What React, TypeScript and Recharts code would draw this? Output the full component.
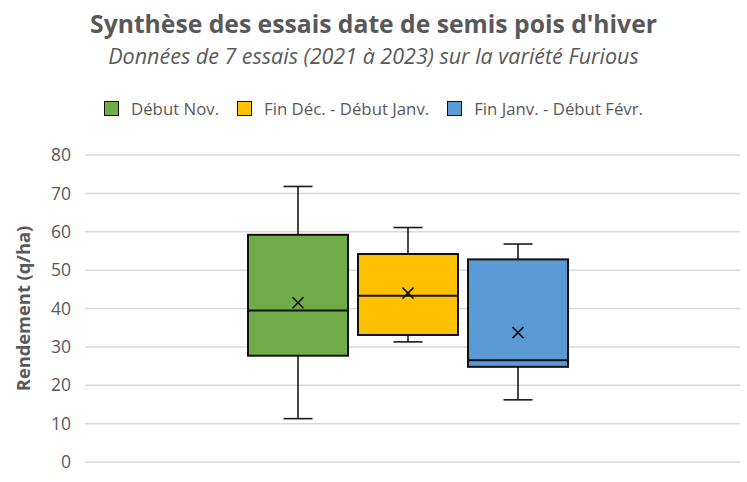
import React from 'react';
import { ComposedChart, Bar, XAxis, YAxis, CartesianGrid } from 'recharts';

const categories = ['Furious'];
const seriesNames = ['Début Nov.', 'Fin Déc. - Début Janv.', 'Fin Janv. - Début Févr.'];
const seriesColors = ['#70AD47', '#FFC000', '#5B9BD5'];
const minValues = [11.3, 31.3, 16.2];
const q1Values = [27.7, 33.1, 24.8];
const medianValues = [39.5, 43.3, 26.5];
const meanValues = [41.5, 44.0, 33.7];
const q3Values = [59.2, 54.2, 52.8];
const maxValues = [71.8, 61.1, 56.8];
const yTicks = [0, 10, 20, 30, 40, 50, 60, 70, 80];

const FONT = '"Open Sans", Lato, sans-serif';
const TEXT = '#595959';

const data = categories.map((c) => {
  const row: any = { category: c };
  seriesNames.forEach((_, i) => {
    row[`box${i}`] = [q1Values[i], q3Values[i]];
  });
  return row;
});

const makeShape = (i: number) => (props: any) => {
  const { x, y, width, height } = props;
  const top = Math.min(y, y + height);
  const bottom = Math.max(y, y + height);
  const ppu = (bottom - top) / (q3Values[i] - q1Values[i]);
  const toY = (v: number) => bottom - (v - q1Values[i]) * ppu;
  const cx = x + width / 2;
  const cap = 14.5;
  const yMax = toY(maxValues[i]);
  const yMin = toY(minValues[i]);
  const yMed = toY(medianValues[i]);
  const yMean = toY(meanValues[i]);
  const m = 5.5;
  return (
    <g>
      <line x1={cx} x2={cx} y1={yMax} y2={top} stroke="#1a1a1a" strokeWidth={1.6} />
      <line x1={cx - cap} x2={cx + cap} y1={yMax} y2={yMax} stroke="#1a1a1a" strokeWidth={1.6} />
      <line x1={cx} x2={cx} y1={bottom} y2={yMin} stroke="#1a1a1a" strokeWidth={1.6} />
      <line x1={cx - cap} x2={cx + cap} y1={yMin} y2={yMin} stroke="#1a1a1a" strokeWidth={1.6} />
      <rect x={x} y={top} width={width} height={bottom - top} fill={seriesColors[i]} stroke="#111" strokeWidth={2} />
      <line x1={x} x2={x + width} y1={yMed} y2={yMed} stroke="#111" strokeWidth={2} />
      <line x1={cx - m} x2={cx + m} y1={yMean - m} y2={yMean + m} stroke="#111" strokeWidth={1.6} />
      <line x1={cx - m} x2={cx + m} y1={yMean + m} y2={yMean - m} stroke="#111" strokeWidth={1.6} />
    </g>
  );
};

export default function App() {
  return (
    <div style={{ position: 'absolute', left: 0, top: 0, width: 747, height: 482, background: '#fff', fontFamily: FONT }}>
      <div style={{ position: 'absolute', left: 0, width: 747, top: 7, textAlign: 'center', fontSize: 24.7, fontWeight: 700, color: TEXT, whiteSpace: 'nowrap' }}>
        Synthèse des essais date de semis pois d'hiver
      </div>
      <div style={{ position: 'absolute', left: 0, width: 747, top: 41, textAlign: 'center', fontSize: 21.5, fontStyle: 'italic', color: TEXT, whiteSpace: 'nowrap' }}>
        Données de 7 essais (2021 à 2023) sur la variété Furious
      </div>
      <div style={{ position: 'absolute', left: 0, width: 747, top: 97, display: 'flex', justifyContent: 'center', fontSize: 16.8, color: TEXT, whiteSpace: 'nowrap' }}>
        {seriesNames.map((n, i) => (
          <div key={n} style={{ display: 'flex', alignItems: 'center', marginRight: i < seriesNames.length - 1 ? 18 : 0 }}>
            <span style={{ display: 'inline-block', width: 15, height: 15, background: seriesColors[i], border: '1.5px solid #111', marginRight: 12, boxSizing: 'border-box' }} />
            <span>{n}</span>
          </div>
        ))}
      </div>
      <ComposedChart
        width={747}
        height={482}
        data={data}
        margin={{ top: 155, right: 7, bottom: 20, left: 0 }}
        barSize={100}
        barGap={10}
      >
        <CartesianGrid vertical={false} stroke="#d9d9d9" strokeWidth={1.5} />
        <XAxis dataKey="category" hide padding={{ left: 0, right: 10 }} />
        <YAxis
          width={85}
          domain={[0, 80]}
          ticks={yTicks}
          axisLine={false}
          tickLine={false}
          tickMargin={8}
          tick={{ fill: TEXT, fontSize: 17.5, fontFamily: FONT }}
          label={{ value: 'Rendement (q/ha)', angle: -90, position: 'insideLeft', offset: 24, style: { fill: TEXT, fontSize: 18.3, fontWeight: 700, fontFamily: FONT, textAnchor: 'middle' } }}
        />
        {seriesNames.map((n, i) => (
          <Bar key={n} dataKey={`box${i}`} name={n} shape={makeShape(i)} isAnimationActive={false} />
        ))}
      </ComposedChart>
    </div>
  );
}
